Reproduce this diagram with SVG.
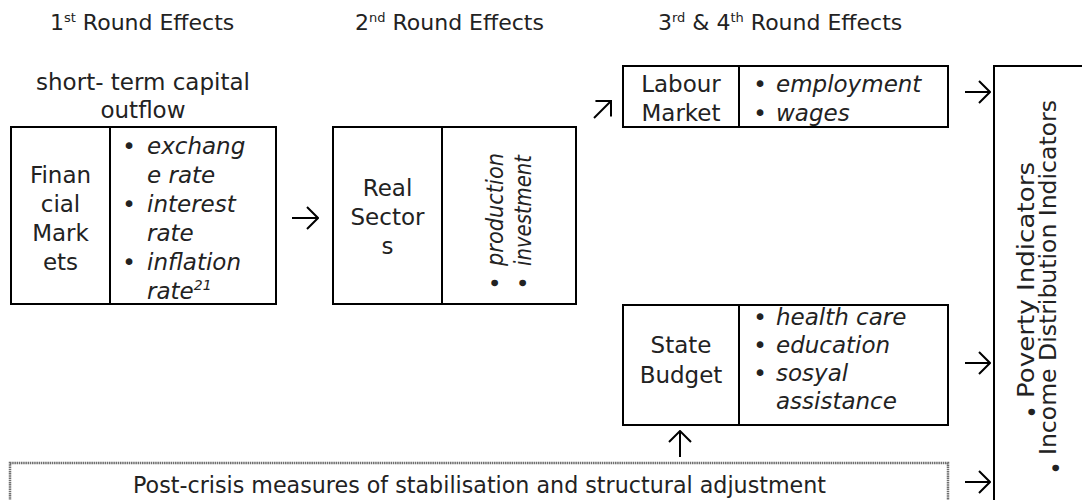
<svg xmlns="http://www.w3.org/2000/svg" width="1082" height="500" viewBox="0 0 1082 500">
<style>
text{font-family:"DejaVu Sans","Liberation Sans",sans-serif;font-size:23px;fill:#222}
.h{font-size:22px}
.c{text-anchor:middle}
.it{font-style:italic}
.b{text-anchor:middle}
.box{fill:#fff;stroke:#000;stroke-width:2}
.div{stroke:#000;stroke-width:2}
.dot{fill:#fff;stroke:#6e6e6e;stroke-width:2.5;stroke-dasharray:1.5 0.7}
.arr{fill:none;stroke:#000;stroke-width:2;marker-end:url(#ah)}
</style>
<defs>
<marker id="ah" viewBox="0 0 13 24" refX="12" refY="12" markerWidth="13" markerHeight="24" markerUnits="userSpaceOnUse" orient="auto">
<path d="M1,1 L12,12 L1,23" fill="none" stroke="#000" stroke-width="2"/>
</marker>
</defs>
<rect width="1082" height="500" fill="#fff"/>
<g id="headers">
<text class="h" x="50" y="30">1<tspan font-size="13" dy="-8">st</tspan><tspan dy="8"> Round Effects</tspan></text>
<text class="h" x="355" y="30">2<tspan font-size="13" dy="-8">nd</tspan><tspan dy="8"> Round Effects</tspan></text>
<text class="h" x="658" y="30">3<tspan font-size="13" dy="-8">rd</tspan><tspan dy="8"> &amp; 4</tspan><tspan font-size="13" dy="-8">th</tspan><tspan dy="8"> Round Effects</tspan></text>
</g>
<g id="capital-outflow-label">
<text class="c" x="143" y="90">short- term capital</text>
<text class="c" x="143" y="118">outflow</text>
</g>
<g id="financial-markets">
<rect class="box" x="11" y="127" width="265" height="177"/>
<line class="div" x1="110" y1="127" x2="110" y2="304"/>
<text class="c" x="60.5" y="183">Finan</text>
<text class="c" x="60.5" y="212">cial</text>
<text class="c" x="60.5" y="241">Mark</text>
<text class="c" x="60.5" y="270">ets</text>
<text class="b" x="129" y="154">•</text>
<text class="b" x="129" y="212">•</text>
<text class="b" x="129" y="270">•</text>
<text class="it" x="147" y="154">exchang</text>
<text class="it" x="147" y="183">e rate</text>
<text class="it" x="147" y="212">interest</text>
<text class="it" x="147" y="241">rate</text>
<text class="it" x="147" y="270">inflation</text>
<text class="it" x="147" y="299">rate<tspan font-size="14" dy="-9">21</tspan></text>
</g>
<g id="real-sectors">
<rect class="box" x="333" y="127" width="243" height="177"/>
<line class="div" x1="442" y1="127" x2="442" y2="304"/>
<text class="c" x="387.5" y="196">Real</text>
<text class="c" x="387.5" y="225">Sector</text>
<text class="c" x="387.5" y="254">s</text>
<text class="b" transform="translate(503,283) rotate(-90)">•</text>
<text class="b" transform="translate(531,283) rotate(-90)">•</text>
<text class="it" transform="translate(503,266) rotate(-90)" textLength="113" lengthAdjust="spacingAndGlyphs">production</text>
<text class="it" transform="translate(531,266) rotate(-90)" textLength="111" lengthAdjust="spacingAndGlyphs">investment</text>
</g>
<g id="labour-market">
<rect class="box" x="623" y="66" width="325" height="61"/>
<line class="div" x1="739" y1="66" x2="739" y2="127"/>
<text class="c" x="681" y="92">Labour</text>
<text class="c" x="681" y="121">Market</text>
<text class="b" x="760" y="92">•</text>
<text class="b" x="760" y="121">•</text>
<text class="it" x="776" y="92">employment</text>
<text class="it" x="776" y="121">wages</text>
</g>
<g id="state-budget">
<rect class="box" x="623" y="305" width="325" height="120"/>
<line class="div" x1="739" y1="305" x2="739" y2="425"/>
<text class="c" x="681" y="353">State</text>
<text class="c" x="681" y="383">Budget</text>
<text class="b" x="760" y="325">•</text>
<text class="b" x="760" y="353">•</text>
<text class="b" x="760" y="381">•</text>
<text class="it" x="776" y="325">health care</text>
<text class="it" x="776" y="353">education</text>
<text class="it" x="776" y="381">sosyal</text>
<text class="it" x="776" y="409">assistance</text>
</g>
<g id="post-crisis-measures">
<rect class="dot" x="10" y="463" width="938" height="60"/>
<text class="c" x="479.5" y="493" textLength="693" lengthAdjust="spacingAndGlyphs">Post-crisis measures of stabilisation and structural adjustment</text>
</g>
<g id="indicators">
<rect class="box" x="994" y="66" width="120" height="460"/>
<text class="b" transform="translate(1040,412) rotate(-90)">•</text>
<text class="b" transform="translate(1064,468) rotate(-90)">•</text>
<text transform="translate(1034,398) rotate(-90)" textLength="236" lengthAdjust="spacingAndGlyphs">Poverty Indicators</text>
<text transform="translate(1056,455) rotate(-90)" textLength="355" lengthAdjust="spacingAndGlyphs">Income Distribution Indicators</text>
</g>
<g id="connectors">
<path class="arr" d="M292,218 H318"/>
<path class="arr" d="M594,118 L611,101"/>
<path class="arr" d="M680,457 V431"/>
<path class="arr" d="M965,92 H990"/>
<path class="arr" d="M965,363 H990"/>
<path class="arr" d="M965,482 H990"/>
</g>
</svg>
